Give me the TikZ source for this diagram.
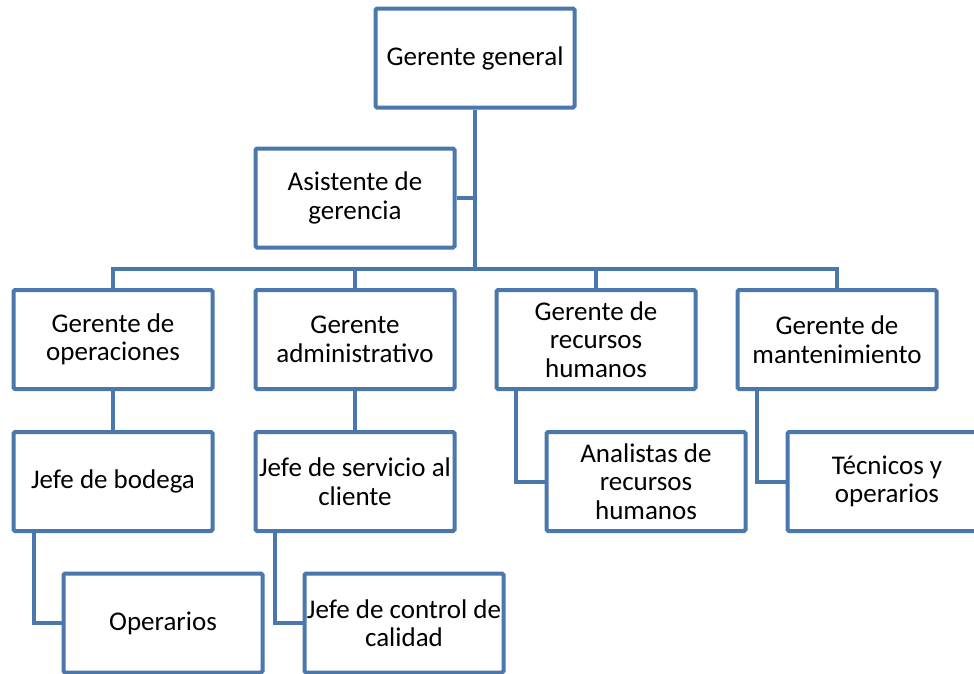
\documentclass[tikz,border=0pt]{standalone}
\usepackage{fontspec}
\setmainfont{Carlito}
\definecolor{boxblue}{HTML}{4A77AC}
\begin{document}
\begin{tikzpicture}[x={(1pt,0)},y={(0,-1pt)},
  orgbox/.style={draw=boxblue,line width=4pt,fill=white,rounded corners=1.5pt,
    minimum width=199pt,minimum height=99pt,inner sep=0pt,align=center,
    font=\fontsize{27}{28.5}\selectfont},
  link/.style={draw=boxblue,line width=4pt,line join=miter}]
\useasboundingbox (0,0) rectangle (974,673);
\clip (0,0) rectangle (974,673);
\coordinate (bus) at (475,269);
\coordinate (ggstem) at (475,198);
% nodes
\node[orgbox] (gg) at (475,58) {Gerente general};
\node[orgbox] (as) at (355,198) {Asistente de\\gerencia};
\node[orgbox] (op) at (113,339.5) {Gerente de\\operaciones};
\node[orgbox] (ad) at (355,339.5) {Gerente\\administrativo};
\node[orgbox] (rh) at (596,339.5) {Gerente de\\recursos\\humanos};
\node[orgbox] (mt) at (837,339.5) {Gerente de\\mantenimiento};
\node[orgbox] (bo) at (113,481.5) {Jefe de bodega};
\node[orgbox] (sv) at (355,481.5) {Jefe de servicio al\\cliente};
\node[orgbox] (an) at (646,481.5) {Analistas de\\recursos\\humanos};
\node[orgbox] (tc) at (887,481.5) {Técnicos y\\operarios};
\node[orgbox] (ope) at (163,623) {Operarios};
\node[orgbox] (cc) at (404,623) {Jefe de control de\\calidad};
% links
\path[link] (gg.south) -- (bus);
\path[link] (as.east) -- (ggstem);
\path[link] (op.north) |- (bus);
\path[link] (mt.north) |- (bus);
\path[link] (ad.north) -- (ad.north |- bus);
\path[link] (rh.north) -- (rh.north |- bus);
\path[link] (op.south) -- (bo.north);
\path[link] (ad.south) -- (sv.north);
\path[link] ([xshift=-80pt]rh.south) |- (an.west);
\path[link] ([xshift=-80pt]mt.south) |- (tc.west);
\path[link] ([xshift=-79pt]bo.south) |- (ope.west);
\path[link] ([xshift=-80pt]sv.south) |- (cc.west);
\end{tikzpicture}
\end{document}
